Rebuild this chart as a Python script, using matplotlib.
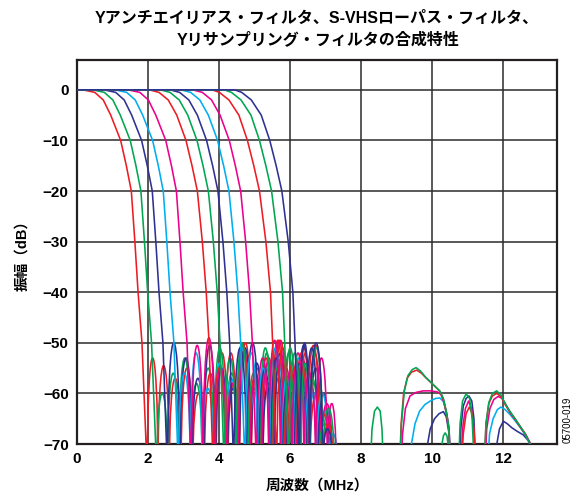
import matplotlib
matplotlib.use("Agg")
import matplotlib.pyplot as plt
from matplotlib.path import Path
from matplotlib.patches import PathPatch

plt.rcParams["font.family"] = ["Liberation Sans", "Noto Sans CJK JP"]
plt.rcParams["axes.unicode_minus"] = True

# ---- data -------------------------------------------------------------
x_ticks = [0, 2, 4, 6, 8, 10, 12]
y_ticks = [0, -10, -20, -30, -40, -50, -60, -70]

RED, GREEN, NAVY, CYAN, PINK = "#ED1C24", "#00A651", "#2E3192", "#00AEEF", "#EC008C"

# attenuation levels (dB) at which the roll-off of every response is listed
roll_db = [0, -0.5, -2, -5, -10, -15, -20, -30, -40, -50]

# roll-off frequencies (MHz) of the 13 responses at the roll_db levels
pass_f_01 = [0.17, 0.50, 0.74, 0.95, 1.23, 1.39, 1.53, 1.63, 1.72, 1.83]
pass_f_02 = [0.44, 0.77, 1.01, 1.22, 1.50, 1.66, 1.80, 1.90, 1.99, 2.10]
pass_f_03 = [0.76, 1.09, 1.33, 1.54, 1.82, 1.98, 2.12, 2.22, 2.31, 2.42]
pass_f_04 = [1.07, 1.40, 1.64, 1.85, 2.13, 2.29, 2.43, 2.53, 2.62, 2.73]
pass_f_05 = [1.44, 1.77, 2.01, 2.22, 2.50, 2.66, 2.80, 2.90, 2.99, 3.10]
pass_f_06 = [2.04, 2.31, 2.57, 2.81, 3.07, 3.24, 3.39, 3.53, 3.64, 3.72]
pass_f_07 = [2.35, 2.62, 2.88, 3.12, 3.38, 3.55, 3.70, 3.84, 3.95, 4.03]
pass_f_08 = [2.62, 2.89, 3.15, 3.39, 3.65, 3.82, 3.97, 4.11, 4.22, 4.30]
pass_f_09 = [2.93, 3.20, 3.46, 3.70, 3.96, 4.13, 4.28, 4.42, 4.53, 4.61]
pass_f_10 = [3.26, 3.53, 3.79, 4.03, 4.29, 4.46, 4.61, 4.75, 4.86, 4.94]
pass_f_11 = [3.81, 4.01, 4.28, 4.56, 4.80, 4.98, 5.14, 5.32, 5.45, 5.51]
pass_f_12 = [4.15, 4.35, 4.62, 4.90, 5.14, 5.32, 5.48, 5.66, 5.79, 5.85]
pass_f_13 = [4.44, 4.64, 4.91, 5.19, 5.43, 5.61, 5.77, 5.95, 6.08, 6.14]

# stop-band: null frequencies (MHz) and the peak level (dB) of each lobe between them
stop_nulls_01 = [1.98, 2.28, 2.60, 2.93, 3.26, 3.59, 3.92, 4.25, 4.58, 4.91, 5.24, 5.57, 5.90, 6.23, 6.56, 6.92]
stop_peaks_01 = [-53, -54.5, -57, -55, -60, -56, -52, -58, -50, -55, -53, -49.5, -54, -51, -60]
stop_nulls_02 = [2.25, 2.55, 2.87, 3.20, 3.53, 3.86, 4.19, 4.52, 4.85, 5.18, 5.51, 5.84, 6.17, 6.50, 6.85]
stop_peaks_02 = [-60, -56, -53, -58, -55, -51, -56, -50.5, -59, -52, -57, -51, -56, -58]
stop_nulls_03 = [2.55, 2.90, 3.24, 3.57, 3.90, 4.23, 4.57, 4.90, 5.23, 5.56, 5.89, 6.22, 6.55, 6.90]
stop_peaks_03 = [-50, -53, -57, -50.5, -55, -59, -51, -54, -58, -52, -56, -50.5, -55]
stop_nulls_04 = [2.86, 3.19, 3.52, 3.85, 4.18, 4.51, 4.84, 5.17, 5.50, 5.83, 6.16, 6.50, 6.85, 7.20]
stop_peaks_04 = [-56, -52, -59, -54, -57, -51, -60, -55, -53, -58, -56, -60, -63]
stop_nulls_05 = [3.22, 3.55, 3.88, 4.21, 4.54, 4.87, 5.20, 5.53, 5.86, 6.19, 6.52, 6.87, 7.20]
stop_peaks_05 = [-50.5, -49, -55, -58, -52, -56, -54, -49.5, -57, -53, -52, -62]
stop_nulls_06 = [3.84, 4.17, 4.50, 4.83, 5.16, 5.49, 5.82, 6.15, 6.48, 6.84, 7.18]
stop_peaks_06 = [-55, -52, -50, -57, -53, -49.5, -56, -52, -50.5, -64]
stop_nulls_07 = [4.15, 4.48, 4.81, 5.14, 5.47, 5.80, 6.13, 6.46, 6.80, 7.15]
stop_peaks_07 = [-53, -50, -56, -51, -55, -52, -58, -57, -66]
stop_nulls_08 = [4.42, 4.77, 5.12, 5.45, 5.78, 6.11, 6.44, 6.78, 7.10]
stop_peaks_08 = [-51, -50, -55, -53, -58, -54, -51, -60]
stop_nulls_09 = [4.74, 5.08, 5.42, 5.75, 6.08, 6.41, 6.74, 7.08, 7.35]
stop_peaks_09 = [-52, -55, -51, -57, -53, -58, -60, -68]
stop_nulls_10 = [5.06, 5.40, 5.73, 6.06, 6.39, 6.72, 7.05, 7.30]
stop_peaks_10 = [-53, -49.5, -55, -52, -56, -53, -62]
stop_nulls_11 = [5.63, 5.96, 6.29, 6.56, 6.92, 7.22]
stop_peaks_11 = [-51, -55, -52, -50.5, -66]
stop_nulls_12 = [5.97, 6.30, 6.56, 6.92, 7.25]
stop_peaks_12 = [-52, -54, -51, -63]
stop_nulls_13 = [6.27, 6.55, 6.92, 7.20]
stop_peaks_13 = [-50, -50, -67]

# image-band lobes above 8 MHz
far_navy_f = [9.78, 9.85, 9.95, 10.07, 10.20, 10.32, 10.40, 10.47, 10.53,
              10.75, 10.81, 10.88, 10.96, 11.04, 11.12, 11.18, 11.23,
              11.72, 11.80, 11.90, 12.01, 12.12, 12.25, 12.40, 12.57, 12.72, 12.84]
far_navy_db = [-76, -71, -67, -65, -64, -63.6, -64.6, -67.5, -76,
               -76, -67, -62.5, -61, -60.5, -61.5, -65, -76,
               -76, -71, -67, -65.5, -66, -66.8, -67.5, -68.2, -69.4, -76]
far_cyan_f = [9.36, 9.42, 9.52, 9.65, 9.80, 9.95, 10.10, 10.22, 10.32, 10.41, 10.48, 10.54,
              11.55, 11.62, 11.72, 11.84, 11.94, 12.06, 12.20, 12.34, 12.48, 12.62, 12.76, 12.88]
far_cyan_db = [-76, -70, -66, -63.5, -62.2, -61.5, -61.0, -60.9, -61.6, -64, -67, -76,
               -76, -68, -65, -63.2, -62.7, -63.2, -64.2, -65.4, -66.7, -68.1, -70, -76]
far_pink_f = [9.12, 9.17, 9.25, 9.38, 9.55, 9.75, 9.95, 10.15, 10.25, 10.34, 10.42, 10.48, 10.54,
              10.80, 10.86, 10.94, 11.03, 11.11, 11.18, 11.24,
              11.48, 11.54, 11.63, 11.74, 11.86, 11.98, 12.10, 12.22, 12.36, 12.50, 12.64, 12.78, 12.88]
far_pink_db = [-76, -68, -63, -60.5, -59.8, -59.5, -59.5, -59.7, -60.2, -61.8, -64.2, -67.2, -76,
               -76, -67, -63, -61.5, -63, -67, -76,
               -76, -67, -63, -61.2, -60.6, -61, -62.5, -64, -65.3, -66.7, -68.1, -70, -76]
far_red_f = [9.08, 9.13, 9.20, 9.30, 9.42, 9.57, 9.70, 9.84, 9.96, 10.10, 10.22, 10.32, 10.40, 10.47, 10.53,
             10.82, 10.88, 10.96, 11.05, 11.13, 11.19, 11.24,
             11.46, 11.52, 11.60, 11.70, 11.82, 11.94, 12.06, 12.20, 12.34, 12.48, 12.62, 12.76, 12.86]
far_red_db = [-76, -66, -60, -57, -55.8, -55.4, -56, -57, -57.8, -58.7, -59.6, -61.2, -63.8, -67, -76,
              -76, -68, -64, -62.7, -64, -68, -76,
              -76, -66, -62, -60.5, -60, -60.6, -62.2, -63.8, -65.1, -66.6, -68, -69.9, -76]
far_green_f = [8.25, 8.31, 8.38, 8.46, 8.54, 8.59, 8.64,
               9.08, 9.14, 9.22, 9.32, 9.44, 9.55, 9.68, 9.82, 9.94, 10.08, 10.22, 10.32, 10.40, 10.47, 10.53,
               10.74, 10.79, 10.86, 10.96, 11.06, 11.13, 11.20,
               11.46, 11.52, 11.60, 11.70, 11.82, 11.94, 12.06, 12.20, 12.34, 12.48, 12.62, 12.76, 12.86]
far_green_db = [-76, -67, -63.5, -62.7, -63.5, -67, -76,
                -76, -66, -59.5, -56.5, -55.3, -54.9, -55.6, -56.8, -57.6, -58.6, -59.5, -61.0, -63.5, -66.5, -76,
                -76, -66, -61.5, -60.1, -61.0, -65, -76,
                -76, -66, -61.8, -60, -59.5, -60.3, -62, -63.6, -65, -66.5, -68, -69.9, -76]
far_green2_f = [10.23, 10.28, 10.32, 10.37, 10.42, 10.47, 10.51]
far_green2_db = [-76, -70, -68.4, -67.8, -68.4, -71, -76]

# ---- drawing ----------------------------------------------------------
FLOOR = -76.0
LW = 1.15


def response_path(pass_f, nulls, peaks):
    """Roll-off polyline followed by rounded stop-band lobes (cubic Beziers)."""
    verts = [(0.0, 0.0)] + list(zip(pass_f, roll_db)) + [(nulls[0], FLOOR)]
    codes = [Path.MOVETO] + [Path.LINETO] * (len(pass_f) + 1)
    for a, b, p in zip(nulls[:-1], nulls[1:], peaks):
        ctrl = FLOOR + (p - FLOOR) / 0.75
        verts += [(a, ctrl), (b, ctrl), (b, FLOOR)]
        codes += [Path.CURVE4] * 3
    return Path(verts, codes)


fig = plt.figure(figsize=(5.74, 4.93), dpi=100)
ax = fig.add_axes([77 / 574, 1 - 444 / 493, 480 / 574, 384 / 493])

responses = [
    (pass_f_01, stop_nulls_01, stop_peaks_01, RED),
    (pass_f_02, stop_nulls_02, stop_peaks_02, GREEN),
    (pass_f_03, stop_nulls_03, stop_peaks_03, NAVY),
    (pass_f_04, stop_nulls_04, stop_peaks_04, CYAN),
    (pass_f_05, stop_nulls_05, stop_peaks_05, PINK),
    (pass_f_06, stop_nulls_06, stop_peaks_06, RED),
    (pass_f_07, stop_nulls_07, stop_peaks_07, GREEN),
    (pass_f_08, stop_nulls_08, stop_peaks_08, NAVY),
    (pass_f_09, stop_nulls_09, stop_peaks_09, CYAN),
    (pass_f_10, stop_nulls_10, stop_peaks_10, PINK),
    (pass_f_11, stop_nulls_11, stop_peaks_11, RED),
    (pass_f_12, stop_nulls_12, stop_peaks_12, GREEN),
    (pass_f_13, stop_nulls_13, stop_peaks_13, NAVY),
]
for pf, nl, pk, col in responses:
    ax.add_patch(PathPatch(response_path(pf, nl, pk), fill=False, edgecolor=col,
                           lw=LW, joinstyle="round", capstyle="round", zorder=3))

for f, db, col in [(far_navy_f, far_navy_db, NAVY), (far_cyan_f, far_cyan_db, CYAN),
                   (far_pink_f, far_pink_db, PINK), (far_red_f, far_red_db, RED),
                   (far_green2_f, far_green2_db, GREEN), (far_green_f, far_green_db, GREEN)]:
    ax.plot(f, db, color=col, lw=LW, zorder=3, solid_joinstyle="round")

ax.set_xlim(0, 13.52)
ax.set_ylim(-70, 5.9)
ax.set_xticks(x_ticks)
ax.set_yticks(y_ticks)
ax.grid(True, color="#2b2b2b", lw=1.1, zorder=1)
ax.set_axisbelow(True)
for s in ax.spines.values():
    s.set_color("#231F20")
    s.set_linewidth(1.6)
ax.tick_params(length=0, pad=6, labelsize=11)
for lab in ax.get_xticklabels() + ax.get_yticklabels():
    lab.set_fontweight("bold")

ax.set_xlabel("周波数（MHz）", fontsize=10.5, fontweight="bold", labelpad=9)
ax.set_ylabel("振幅（dB）", fontsize=10.5, fontweight="bold", labelpad=10)

fig.text(317 / 574, 1 - 18 / 493, "Yアンチエイリアス・フィルタ、S-VHSローパス・フィルタ、",
         ha="center", va="center", fontsize=11.5, fontweight="bold")
fig.text(318 / 574, 1 - 40 / 493, "Yリサンプリング・フィルタの合成特性",
         ha="center", va="center", fontsize=11.5, fontweight="bold")
fig.text(568 / 574, 1 - 420 / 493, "05700-019", rotation=90, ha="center", va="center",
         fontsize=7)

fig.savefig("out.png", dpi=100)
